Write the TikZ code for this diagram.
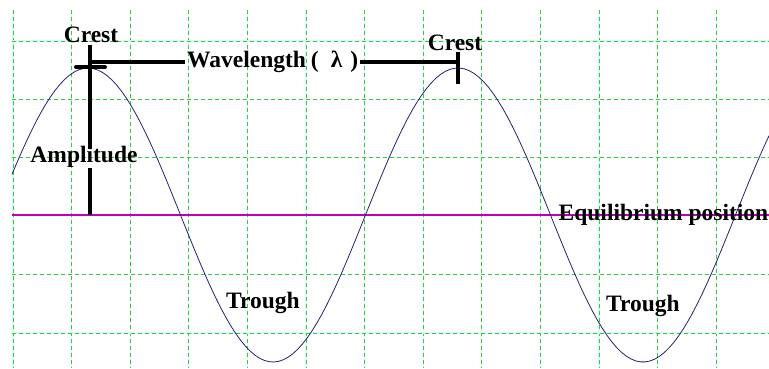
\documentclass[tikz,border=0pt]{standalone}
\usepackage{fontspec}
\setmainfont{Liberation Serif}
\usetikzlibrary{positioning}
\definecolor{gridgreen}{RGB}{60,200,60}
\definecolor{gridcyan}{RGB}{220,250,245}
\definecolor{eqpink}{RGB}{190,0,190}
\definecolor{wavenavy}{RGB}{35,35,110}
\tikzset{
  gridline/.style={gridgreen,line width=0.7pt,dash pattern=on 4pt off 3pt},
  gridbase/.style={gridcyan,line width=1.2pt},
  eqline/.style={eqpink,line width=1.1pt},
  wave/.style={wavenavy,line width=0.8pt},
  bar/.style={black,line width=4pt},
  lbl/.style={font=\fontsize{23.5}{26}\selectfont\bfseries,inner sep=2pt},
}
\begin{document}
\begin{tikzpicture}[x=1pt,y=-1pt]
  \useasboundingbox (0,0) rectangle (769,368);
  \fill[white] (0,0) rectangle (769,368);
  % grid
  \foreach \k in {0,...,12}{
    \draw[gridbase] ({13+58.6*\k},10) -- ({13+58.6*\k},368);
    \draw[gridline] ({13+58.6*\k},10) -- ({13+58.6*\k},368);
  }
  \foreach \y in {41,99.4,157.8,274.6,333}{
    \draw[gridbase] (12,\y) -- (769,\y);
    \draw[gridline] (12,\y) -- (769,\y);
  }
  % equilibrium and wave
  \coordinate (eqL) at (12,215);
  \coordinate (eqR) at (769,215);
  \draw[eqline] (eqL) -- (eqR);
  \draw[wave] plot[domain=12:769,samples=160] (\x,{215-147*cos(0.97297*(\x-88))});
  % labels
  \node[lbl] (crestL) at (91,35) {Crest};
  \node[lbl] (crestR) at (455,43) {Crest};
  \node[lbl,anchor=west] (wavelen) at (185,62) {Wavelength\hspace{5pt}(\hspace{12pt}λ\hspace{8pt})};
  \node[lbl] (amp) at (84,157) {Amplitude};
  \node[lbl] (troughL) at (263,303) {Trough};
  \node[lbl] (troughR) at (643,306) {Trough};
  \node[lbl,anchor=east,inner xsep=0.5pt] (equil) at (769,215) {Equilibrium position};
  % bars
  \coordinate (ampFoot) at (90,215);
  \coordinate (wlStart) at (90,62);
  \coordinate (wlEnd) at (458,62);
  \coordinate (tickTop) at (458,52);
  \coordinate (tickLow) at (458,84);
  \coordinate (capL) at (76,67);
  \coordinate (capR) at (105,67);
  \draw[bar] ([xshift=-1pt]crestL.south) -- ([xshift=6pt,yshift=-5pt]amp.north);
  \draw[bar] ([xshift=6pt,yshift=2pt]amp.south) -- (ampFoot);
  \draw[bar] (wlStart) -- (wavelen.west);
  \draw[bar] (wavelen.east) -- (wlEnd);
  \draw[bar] (tickTop) -- (tickLow);
  \draw[bar,line cap=round] (capL) -- (capR);
\end{tikzpicture}
\end{document}
